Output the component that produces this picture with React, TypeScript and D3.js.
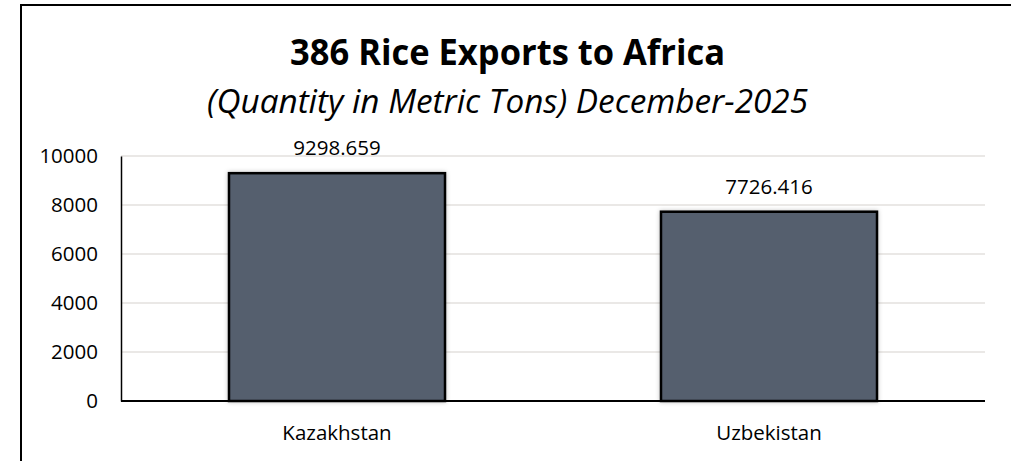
import { useEffect, useRef } from "react";
import * as d3 from "d3";

const countries = ["Kazakhstan", "Uzbekistan"];
const quantities = [9298.659, 7726.416];
const yTicks = [0, 2000, 4000, 6000, 8000, 10000];

const title = "386 Rice Exports to Africa";
const subtitle = "(Quantity in Metric Tons) December-2025";

export default function App() {
  const ref = useRef<SVGSVGElement>(null);

  useEffect(() => {
    const svg = d3.select(ref.current!);
    svg.selectAll("*").remove();

    const w = 1011,
      h = 461,
      m = { top: 156, right: 26, bottom: 60, left: 121 };
    const font = "'Open Sans', sans-serif";

    const x = d3
      .scaleBand<string>()
      .domain(countries)
      .range([m.left, w - m.right])
      .paddingInner(0.5)
      .paddingOuter(0.25);

    const y = d3
      .scaleLinear()
      .domain([0, 10000])
      .range([h - m.bottom, m.top]);

    // outer frame (only top + left visible)
    svg
      .append("rect")
      .attr("x", 21)
      .attr("y", 5)
      .attr("width", 1200)
      .attr("height", 800)
      .attr("fill", "white")
      .attr("stroke", "#000")
      .attr("stroke-width", 2);

    /* ── TITLES ─────────────────────────────── */
    svg
      .append("text")
      .attr("x", 507.5)
      .attr("y", 65)
      .attr("text-anchor", "middle")
      .attr("font-family", font)
      .attr("font-weight", 700)
      .attr("font-size", 35)
      .attr("textLength", 435)
      .attr("lengthAdjust", "spacingAndGlyphs")
      .text(title);

    svg
      .append("text")
      .attr("x", 507.5)
      .attr("y", 113)
      .attr("text-anchor", "middle")
      .attr("font-family", font)
      .attr("font-style", "italic")
      .attr("font-size", 33)
      .attr("textLength", 601)
      .attr("lengthAdjust", "spacingAndGlyphs")
      .text(subtitle);

    /* ── GRID + AXES ────────────────────────── */
    svg
      .append("g")
      .selectAll("line")
      .data(yTicks.filter((t) => t > 0))
      .join("line")
      .attr("x1", m.left)
      .attr("x2", w - m.right)
      .attr("y1", (d) => y(d))
      .attr("y2", (d) => y(d))
      .attr("stroke", "#e3e0de")
      .attr("stroke-width", 1.5);

    svg
      .append("g")
      .attr("transform", `translate(${m.left},0)`)
      .call(
        d3
          .axisLeft(y)
          .tickValues(yTicks)
          .tickFormat(d3.format("d"))
          .tickSize(0)
          .tickPadding(23)
      )
      .call((g) => g.select(".domain").attr("stroke", "#000").attr("stroke-width", 1.5))
      .call((g) =>
        g
          .selectAll("text")
          .attr("font-family", font)
          .attr("font-size", 20.5)
          .attr("fill", "#000")
      );

    /* ── BARS ───────────────────────────────── */
    const defs = svg.append("defs");
    const shadow = defs
      .append("filter")
      .attr("id", "sh")
      .attr("x", "-5%")
      .attr("y", "-5%")
      .attr("width", "110%")
      .attr("height", "110%");
    shadow
      .append("feDropShadow")
      .attr("dx", 0)
      .attr("dy", 0)
      .attr("stdDeviation", 2)
      .attr("flood-color", "#000")
      .attr("flood-opacity", 0.25);

    svg
      .append("g")
      .selectAll("rect")
      .data(quantities)
      .join("rect")
      .attr("x", (_, i) => x(countries[i])!)
      .attr("y", (d) => y(d))
      .attr("width", x.bandwidth())
      .attr("height", (d) => y(0) - y(d))
      .attr("fill", "#545e6e")
      .attr("stroke", "#000")
      .attr("stroke-width", 2.5)
      .attr("filter", "url(#sh)");

    // baseline
    svg
      .append("line")
      .attr("x1", m.left)
      .attr("x2", w - m.right)
      .attr("y1", y(0))
      .attr("y2", y(0))
      .attr("stroke", "#000")
      .attr("stroke-width", 2);

    // value labels
    svg
      .append("g")
      .selectAll("text")
      .data(quantities)
      .join("text")
      .attr("x", (_, i) => x(countries[i])! + x.bandwidth() / 2)
      .attr("y", (d) => y(d) - 18)
      .attr("text-anchor", "middle")
      .attr("font-family", font)
      .attr("font-size", 20.5)
      .text((d) => d3.format(".3f")(d));

    // category labels
    svg
      .append("g")
      .selectAll("text")
      .data(countries)
      .join("text")
      .attr("x", (d) => x(d)! + x.bandwidth() / 2)
      .attr("y", y(0) + 39)
      .attr("text-anchor", "middle")
      .attr("font-family", font)
      .attr("font-size", 20.5)
      .text((d) => d);
  }, []);

  return (
    <svg
      ref={ref}
      width={1011}
      height={461}
      style={{ position: "absolute", left: 0, top: 0, background: "white" }}
    />
  );
}
